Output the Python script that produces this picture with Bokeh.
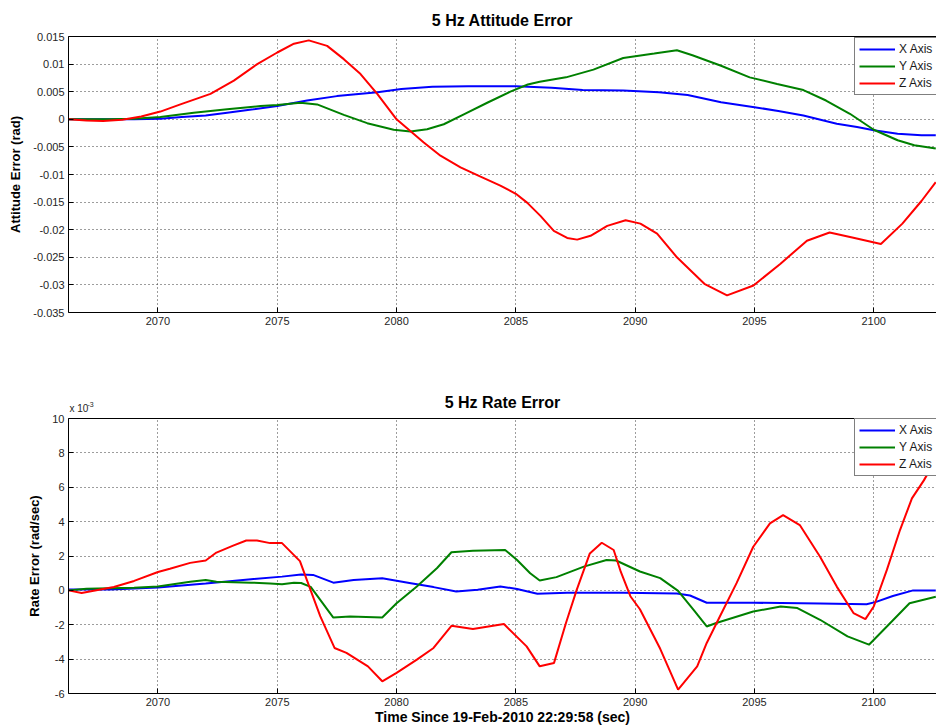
from bokeh.plotting import figure
from bokeh.models import Range1d, FixedTicker, LinearAxis, Legend, Title, Label
from bokeh.layouts import column
from bokeh.embed import file_html
from bokeh.resources import INLINE

# ---------------- data ----------------
x_ticks = [2070, 2075, 2080, 2085, 2090, 2095, 2100]
x_tick_labels = ["2070", "2075", "2080", "2085", "2090", "2095", "2100"]

att_ticks = [-0.035, -0.03, -0.025, -0.02, -0.015, -0.01, -0.005, 0, 0.005, 0.01, 0.015]
att_tick_labels = ["-0.035", "-0.03", "-0.025", "-0.02", "-0.015", "-0.01", "-0.005", "0", "0.005", "0.01", "0.015"]

rate_ticks = [-6, -4, -2, 0, 2, 4, 6, 8, 10]
rate_tick_labels = ["-6", "-4", "-2", "0", "2", "4", "6", "8", "10"]
rate_exponent_base = "x 10"
rate_exponent_power = "-3"

# Attitude error (rad)
att_x_t = [2066.25, 2068.0, 2069.0, 2070.1, 2071.0, 2072.0, 2072.9, 2074.0, 2075.0, 2076.25, 2077.5, 2079.2,
           2080.2, 2081.5, 2083.0, 2085.0, 2086.5, 2087.8, 2089.5, 2091.0, 2092.2, 2093.6, 2095.0,
           2096.0, 2097.05, 2098.45, 2099.3, 2100.0, 2101.0, 2102.0, 2102.6]
att_x_v = [0, 0, 0.00003, 0.0001, 0.0004, 0.0007, 0.0012, 0.0018, 0.0024, 0.0034, 0.0042, 0.0049,
           0.0055, 0.0059, 0.006, 0.006, 0.0057, 0.0053, 0.0052, 0.0049, 0.0044, 0.0031, 0.0022,
           0.0015, 0.0007, -0.0008, -0.0014, -0.002, -0.0026, -0.0029, -0.0029]

att_y_t = [2066.25, 2068.0, 2069.0, 2070.1, 2071.5, 2072.9, 2074.3, 2075.0, 2075.97, 2076.67, 2077.79,
           2078.77, 2079.88, 2080.58, 2081.28, 2081.98, 2082.82, 2083.8, 2084.77, 2085.5, 2086.0,
           2087.1, 2088.25, 2089.5, 2090.8, 2091.75, 2092.4, 2093.6, 2094.8, 2095.95, 2097.05,
           2098.0, 2099.0, 2100.0, 2101.0, 2101.7, 2102.6]
att_y_v = [0, 0, 0.0001, 0.0004, 0.0012, 0.0018, 0.0024, 0.0026, 0.003, 0.0027, 0.0008,
           -0.0007, -0.0019, -0.0022, -0.0018, -0.0009, 0.0009, 0.003, 0.005, 0.0063, 0.0068,
           0.0076, 0.009, 0.0111, 0.0119, 0.0125, 0.0116, 0.0097, 0.0076, 0.0064, 0.0053,
           0.0034, 0.001, -0.0019, -0.0038, -0.0047, -0.0053]

att_z_t = [2066.25, 2067.0, 2067.7, 2068.5, 2069.3, 2070.1, 2070.94, 2072.2, 2073.18, 2074.16,
           2075.0, 2075.7, 2076.32, 2077.09, 2077.79, 2078.49, 2079.19, 2080.0, 2080.65, 2081.14,
           2081.84, 2082.68, 2083.52, 2084.35, 2085.0, 2085.47, 2086.03, 2086.59, 2087.15, 2087.57,
           2088.13, 2088.83, 2089.6, 2090.22, 2090.92, 2091.75, 2092.9, 2093.85, 2094.96, 2096.08,
           2097.2, 2098.15, 2099.1, 2100.3, 2101.2, 2102.0, 2102.6]
att_z_v = [0, -0.0002, -0.0003, -0.0001, 0.0005, 0.0014, 0.0027, 0.0046, 0.007, 0.01,
           0.0121, 0.0137, 0.0143, 0.0133, 0.0109, 0.0082, 0.0046, 0.0, -0.0024, -0.0042,
           -0.0066, -0.0087, -0.0104, -0.012, -0.0135, -0.0151, -0.0175, -0.0202, -0.0215, -0.0218,
           -0.0211, -0.0193, -0.0183, -0.0189, -0.0207, -0.025, -0.0298, -0.0319, -0.0301, -0.0262,
           -0.022, -0.0205, -0.0214, -0.0226, -0.0189, -0.0148, -0.0114]

# Rate error (x 10^-3 rad/sec)
rate_x_t = [2066.25, 2068.0, 2070.0, 2072.0, 2073.9, 2075.2, 2076.0, 2076.5, 2077.35, 2078.2, 2079.4,
            2080.6, 2081.55, 2082.5, 2083.4, 2084.35, 2085.05, 2085.9, 2087.15, 2089.5, 2091.75,
            2092.3, 2093.0, 2095.0, 2097.75, 2099.7, 2100.1, 2100.8, 2101.65, 2102.6]
rate_x_v = [0.05, 0.05, 0.17, 0.4, 0.65, 0.8, 0.92, 0.9, 0.45, 0.61, 0.7,
            0.42, 0.19, -0.06, 0.04, 0.23, 0.08, -0.2, -0.14, -0.14, -0.18,
            -0.3, -0.72, -0.72, -0.77, -0.81, -0.67, -0.33, 0.0, 0.0]

rate_y_t = [2066.25, 2067.0, 2069.0, 2070.0, 2071.35, 2072.0, 2072.45, 2073.9, 2074.7, 2075.2, 2075.7,
            2076.0, 2076.4, 2077.35, 2078.05, 2079.4, 2080.0, 2080.85, 2081.7, 2082.3, 2083.2,
            2084.55, 2085.05, 2085.6, 2086.0, 2086.7, 2087.85, 2088.8, 2089.2, 2090.2, 2091.05,
            2091.8, 2092.45, 2093.0, 2093.4, 2094.95, 2096.1, 2096.8, 2097.75, 2098.9, 2099.8,
            2100.55, 2101.5, 2102.6]
rate_y_v = [0.0, 0.1, 0.15, 0.22, 0.5, 0.6, 0.5, 0.45, 0.4, 0.35, 0.45,
            0.43, 0.2, -1.58, -1.52, -1.58, -0.75, 0.23, 1.3, 2.22, 2.3,
            2.35, 1.77, 1.0, 0.57, 0.77, 1.38, 1.77, 1.74, 1.1, 0.71,
            -0.03, -1.13, -2.1, -1.9, -1.23, -0.94, -1.03, -1.71, -2.68, -3.16,
            -2.1, -0.75, -0.37]

rate_z_t = [2066.25, 2066.8, 2068.15, 2069.0, 2070.0, 2070.5, 2071.35, 2072.0, 2072.45, 2073.15, 2073.7,
            2074.15, 2074.7, 2075.2, 2075.95, 2076.4, 2076.8, 2077.4, 2077.9, 2078.8, 2079.4,
            2080.0, 2080.85, 2081.55, 2082.3, 2083.2, 2084.5, 2085.45, 2086.0, 2086.6, 2087.1,
            2087.55, 2088.1, 2088.6, 2089.1, 2089.4, 2089.8, 2090.2, 2091.05, 2091.8, 2092.6,
            2093.0, 2093.55, 2094.25, 2094.95, 2095.65, 2096.2, 2096.9, 2097.75, 2098.45, 2099.15,
            2099.65, 2100.0, 2100.55, 2101.1, 2101.6, 2102.1, 2102.6]
rate_z_v = [0.0, -0.15, 0.2, 0.55, 1.07, 1.26, 1.6, 1.74, 2.2, 2.6, 2.9,
            2.9, 2.75, 2.75, 1.7, 0.0, -1.5, -3.35, -3.64, -4.42, -5.29,
            -4.8, -4.03, -3.35, -2.06, -2.25, -1.96, -3.26, -4.42, -4.22, -1.9,
            0.03, 2.15, 2.77, 2.35, 1.07, -0.34, -1.1, -3.4, -5.77, -4.42,
            -3.06, -1.52, 0.42, 2.54, 3.9, 4.38, 3.8, 1.96, 0.22, -1.32,
            -1.67, -0.94, 1.19, 3.51, 5.35, 6.4, 7.6]

series_names = ["X Axis", "Y Axis", "Z Axis"]
series_colors = ["#0000FF", "#008000", "#FF0000"]

FONT = "Liberation Sans"
TICK_COLOR = "#262626"
X0 = 2066.25
X1 = 2102.63


def make_fig(title, ylabel, yr, yticks, ylabels, height, top, bottom, xlabel=None,
             exponent=False, title_standoff=16):
    p = figure(width=936, height=height, x_range=Range1d(X0, X1), y_range=Range1d(*yr),
               output_backend="svg", toolbar_location=None,
               min_border_left=68, min_border_right=0, min_border_top=top, min_border_bottom=bottom)
    p.title = None
    p.outline_line_color = None
    p.background_fill_color = "white"
    p.border_fill_color = "white"

    xt = FixedTicker(ticks=x_ticks, minor_ticks=[])
    yt = FixedTicker(ticks=yticks, minor_ticks=[])
    p.xaxis.ticker = xt
    p.yaxis.ticker = yt
    p.xaxis.major_label_overrides = dict(zip(x_ticks, x_tick_labels))
    p.yaxis.major_label_overrides = dict(zip(yticks, ylabels))
    for ax in (p.xaxis[0], p.yaxis[0]):
        ax.major_tick_in = 5
        ax.major_tick_out = 0
        ax.minor_tick_line_color = None
        ax.axis_line_color = "black"
        ax.major_tick_line_color = "black"
        ax.major_label_text_font = FONT
        ax.major_label_text_font_size = "11px"
        ax.major_label_text_color = TICK_COLOR
        ax.axis_label_text_font = FONT
        ax.axis_label_text_font_style = "bold"
        ax.axis_label_text_color = "black"
    p.yaxis.major_label_standoff = 4
    p.xaxis.major_label_standoff = 4
    p.yaxis.axis_label = ylabel
    p.yaxis.axis_label_text_font_size = "13px"
    p.yaxis.axis_label_standoff = 7
    if xlabel:
        p.xaxis.axis_label = xlabel
        p.xaxis.axis_label_text_font_size = "14px"
        p.xaxis.axis_label_standoff = 0

    # top frame line (no labels)
    top_ax = LinearAxis(ticker=FixedTicker(ticks=[], minor_ticks=[]), major_tick_in=0, major_tick_out=0,
                        minor_tick_line_color=None, axis_line_color="black")
    p.add_layout(top_ax, "above")

    p.add_layout(Title(text=title, align="center", text_font=FONT, text_font_size="16px",
                       text_font_style="bold", text_color="black", standoff=title_standoff), "above")

    if exponent:
        # placed in the top margin; positioned from the frame's top-left corner
        p.add_layout(Label(x=X0, y=yr[1], text=rate_exponent_base, x_offset=1, y_offset=5,
                           text_font=FONT, text_font_size="10px", text_color=TICK_COLOR,
                           text_baseline="bottom", text_align="left"), "above")
        p.add_layout(Label(x=X0, y=yr[1], text=rate_exponent_power, x_offset=19, y_offset=12,
                           text_font=FONT, text_font_size="7px", text_color=TICK_COLOR,
                           text_baseline="bottom", text_align="left"), "above")

    for g in (p.xgrid[0], p.ygrid[0]):
        g.grid_line_color = "#3a3a3a"
        g.grid_line_dash = "1 3"
        g.grid_line_width = 1
    p.xgrid.ticker = xt
    p.ygrid.ticker = yt
    return p


p1 = make_fig("5 Hz Attitude Error", "Attitude Error (rad)", (-0.035, 0.015),
              att_ticks, att_tick_labels, 365, 36, 53)
p2 = make_fig("5 Hz Rate Error", "Rate Error (rad/sec)", (-6, 10),
              rate_ticks, rate_tick_labels, 362, 53, 33,
              xlabel="Time Since 19-Feb-2010 22:29:58 (sec)", exponent=True)

att_data = [(att_x_t, att_x_v), (att_y_t, att_y_v), (att_z_t, att_z_v)]
rate_data = [(rate_x_t, rate_x_v), (rate_y_t, rate_y_v), (rate_z_t, rate_z_v)]

for p, data in ((p1, att_data), (p2, rate_data)):
    items = []
    for (t, v), name, col in zip(data, series_names, series_colors):
        r = p.line(t, v, line_color=col, line_width=2)
        items.append((name, [r]))
    leg = Legend(items=items, location=(786, 217))
    leg.border_line_color = "black"
    leg.border_line_width = 1
    leg.background_fill_color = "white"
    leg.background_fill_alpha = 1
    leg.label_text_font = FONT
    leg.label_text_font_size = "12px"
    leg.label_text_color = "#1a1a1a"
    leg.glyph_width = 36
    leg.glyph_height = 14
    leg.label_height = 14
    leg.spacing = 3
    leg.padding = 4
    leg.margin = 0
    leg.label_standoff = 4
    p.add_layout(leg, "center")

layout = column(p1, p2)
open("out.html", "w").write(file_html(layout, INLINE))
